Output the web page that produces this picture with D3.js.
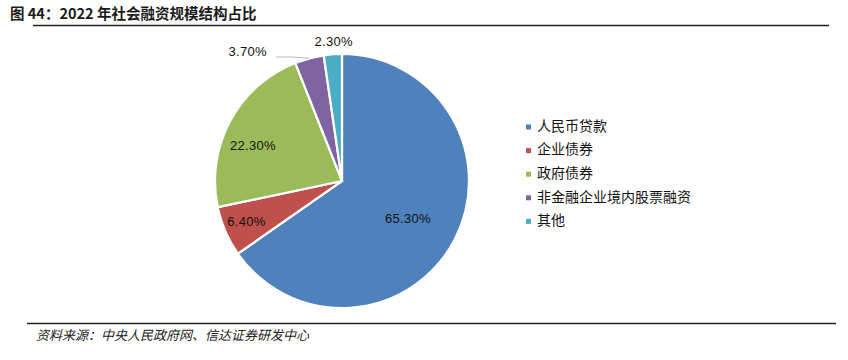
<!DOCTYPE html>
<html><head><meta charset="utf-8">
<script src="https://cdn.jsdelivr.net/npm/d3@7"></script>
<style>
body{margin:0;background:#fff;}
svg{display:block;}
</style></head>
<body><svg id="c" width="848" height="360"></svg>
<script>
const categories = ["人民币贷款","企业债券","政府债券","非金融企业境内股票融资","其他"];
const values = [65.3, 6.4, 22.3, 3.7, 2.3];
const colors = ["#4F81BD","#C0504D","#9BBB59","#8064A2","#4BACC6"];
const title = "图 44：2022 年社会融资规模结构占比";
const source = "资料来源：中央人民政府网、信达证券研发中心";

const svg = d3.select("#c");
const cjk = "'Noto Sans CJK SC','Noto Sans',sans-serif";

svg.append("text").attr("x",10).attr("y",19).attr("font-family",cjk)
  .attr("font-size",14.5).attr("font-weight","bold").attr("fill","#1a1a1a").text(title);
svg.append("line").attr("x1",33).attr("x2",829).attr("y1",25.5).attr("y2",25.5)
  .attr("stroke","#222").attr("stroke-width",1.6);
svg.append("line").attr("x1",27).attr("x2",836).attr("y1",323.5).attr("y2",323.5)
  .attr("stroke","#222").attr("stroke-width",1.6);
svg.append("text").attr("x",36).attr("y",340).attr("font-family",cjk)
  .attr("font-size",13).attr("font-style","italic").attr("fill","#222").text(source);

const cx = 342, cy = 181, r = 127;
const pie = d3.pie().sort(null).value(d=>d)(values);
const arc = d3.arc().innerRadius(0).outerRadius(r);
const g = svg.append("g").attr("transform",`translate(${cx},${cy})`);
g.selectAll("path").data(pie).join("path")
  .attr("d",arc).attr("fill",(d,i)=>colors[i])
  .attr("stroke","#fff").attr("stroke-width",2.2);

const fmt = d => d3.format(".2f")(d) + "%";
const lab = svg.append("g").attr("font-family","'Liberation Sans',Arial,sans-serif")
  .attr("font-size",13).attr("fill","#111").attr("letter-spacing",0.3);
const labelR = [0.55, 0.76, 0.77, 1.08, 1.12];
const labelDx = [4, -7, -3, -59, 2];
const labelDy = [6, 3, 12, 4, 3];
pie.forEach((d,i)=>{
  const c = d3.arc().innerRadius(r*labelR[i]).outerRadius(r*labelR[i]).centroid(d);
  lab.append("text").attr("x",cx+c[0]+labelDx[i]).attr("y",cy+c[1]+labelDy[i])
    .attr("text-anchor","middle").attr("dominant-baseline","middle").text(fmt(values[i]));
});
// leader line for 3.70%
const mid3 = (pie[3].startAngle+pie[3].endAngle)/2;
const px = cx + Math.sin(mid3)*r, py = cy - Math.cos(mid3)*r;
svg.append("polyline").attr("points",`${276},57 ${292},57 ${px},${py}`)
  .attr("fill","none").attr("stroke","#aaa").attr("stroke-width",0.8);

const leg = svg.append("g").attr("font-family",cjk).attr("font-size",14).attr("fill","#111");
categories.forEach((c,i)=>{
  const y = 127 + i*23.6;
  leg.append("rect").attr("x",526).attr("y",y-2.5).attr("width",5).attr("height",5).attr("fill",colors[i]);
  leg.append("text").attr("x",537).attr("y",y).attr("dominant-baseline","middle").text(c);
});
</script></body></html>
